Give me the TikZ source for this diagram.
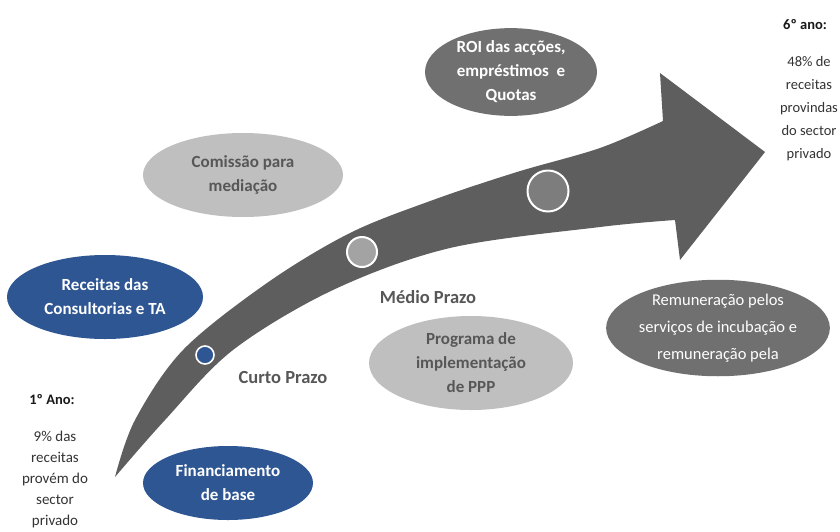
\documentclass[tikz,border=0pt]{standalone}
\usepackage{fontspec}
\setmainfont{Carlito}
\usetikzlibrary{shapes.geometric}
\definecolor{arrowgray}{HTML}{5E5E5E}
\definecolor{darkell}{HTML}{707070}
\definecolor{lightell}{HTML}{BFBFBF}
\definecolor{blueell}{HTML}{2E5692}
\definecolor{txtgray}{HTML}{575757}
\definecolor{midcirc}{HTML}{A3A3A3}
\definecolor{bigcirc}{HTML}{7D7D7D}
\tikzset{
  ell/.style={ellipse, inner sep=0pt, align=center},
  elltext/.style={font=\fontsize{17}{24}\selectfont\bfseries},
  milestone/.style={circle, draw=white, inner sep=0pt},
  phase/.style={font=\fontsize{18.5}{20}\selectfont\bfseries, text=txtgray, inner sep=0pt},
  yearhead/.style={font=\fontsize{14.5}{16}\selectfont\bfseries, text=black!90, inner sep=0pt},
  yearbodyL/.style={font=\fontsize{15}{21}\selectfont, text=black!80, align=center, inner sep=0pt},
  yearbodyR/.style={font=\fontsize{14.5}{23}\selectfont, text=black!80, align=center, inner sep=0pt}
}
\begin{document}
\begin{tikzpicture}[x=1pt,y=-1pt]
\useasboundingbox[fill=white] (0,0) rectangle (840,531);

% big curved arrow
\fill[arrowgray] plot[smooth, tension=0.55] coordinates {(115,477) (135,420) (183,350) (267,283) (350,233) (433,200) (517,172) (600,148) (663,121)}
  -- (660,73) -- (765,152) -- (680,260) -- (675,220)
  -- plot[smooth, tension=0.55] coordinates {(675,220) (600,227) (450,248) (333,290) (233,350) (165,420) (115,477)} -- cycle;

% milestones
\node[milestone, fill=blueell, line width=1.6pt, minimum size=18pt] (m1) at (205,355) {};
\node[milestone, fill=midcirc, line width=2pt, minimum size=30pt] (m2) at (362,252) {};
\node[milestone, fill=bigcirc, line width=2pt, minimum size=41pt] (m3) at (548,191) {};

% ellipses
\node[ell, elltext, fill=lightell, text=txtgray, minimum width=200pt, minimum height=84pt] (comissao) at (243,175) {Comissão para\\mediação};
\node[ell, elltext, fill=blueell, text=white, minimum width=196pt, minimum height=84pt] (receitas) at (105,297) {Receitas das\\Consultorias e TA};
\node[ell, elltext, fill=blueell, text=white, minimum width=170pt, minimum height=74pt] (financ) at (228,483) {Financiamento\\de base};
\node[ell, elltext, fill=lightell, text=txtgray, minimum width=204pt, minimum height=94pt] (programa) at (471,363) {Programa de\\implementação\\de PPP};
\node[ell, elltext, fill=darkell, text=white, minimum width=172pt, minimum height=86pt] (roi) at (511,72) {ROI das acções,\\empréstimos~ e\\Quotas};
\node[ell, fill=darkell, text=white, font=\fontsize{16.5}{27}\selectfont, minimum width=207pt, minimum height=86pt] (remun) at (718,328) {Remuneração pelos\\serviços de incubação e\\remuneração pela};

% phase labels
\node[phase] (medio) at (428,297) {Médio Prazo};
\node[phase] (curto) at (283,377) {Curto Prazo};

% year labels
\node[yearhead] (ano1) at (52,400) {1º Ano:};
\node[yearbodyL, anchor=north] (ano1txt) at (55,431) {9\% das\\receitas\\provém do\\sector\\privado};
\node[yearhead] (ano6) at (805,25) {6º ano:};
\node[yearbodyR, anchor=north] (ano6txt) at (809,56) {48\% de\\receitas\\provindas\\do sector\\privado};
\end{tikzpicture}
\end{document}
